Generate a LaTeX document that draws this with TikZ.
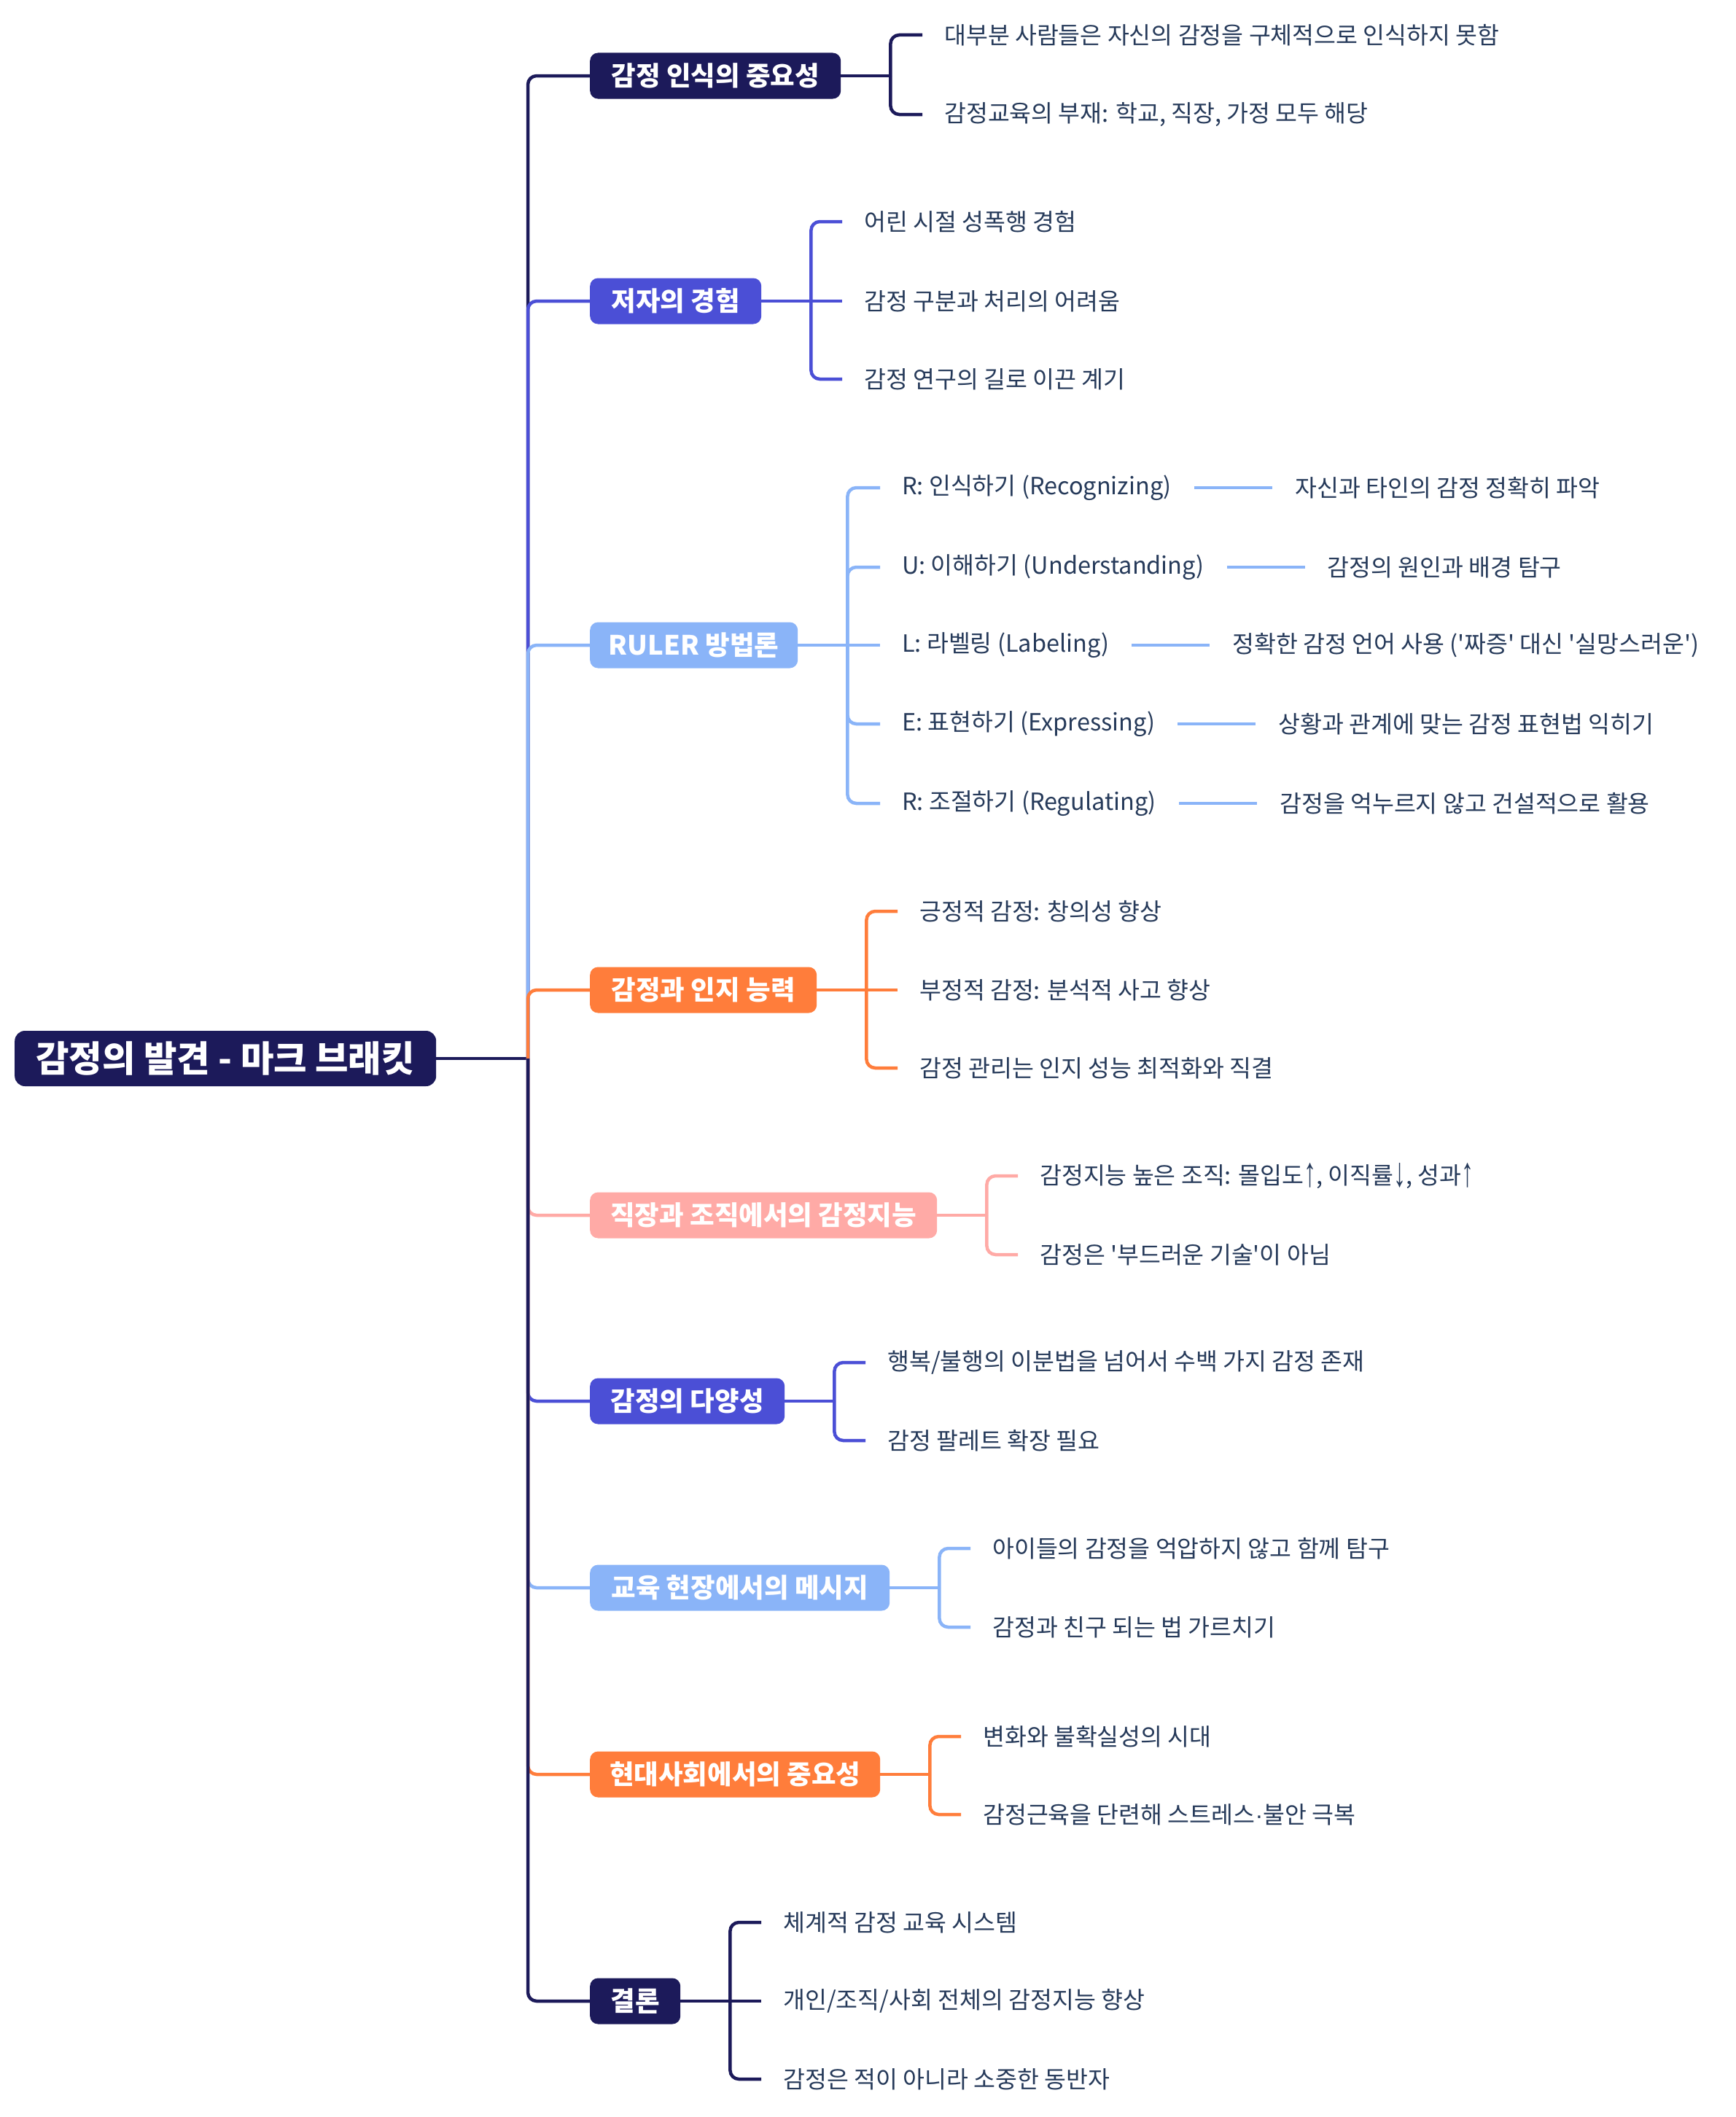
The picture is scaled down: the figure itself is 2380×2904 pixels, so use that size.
\documentclass[tikz,border=0pt]{standalone}
\usepackage{fontspec}
\setmainfont{Noto Sans CJK KR}
\newfontfamily\symf{Liberation Sans}
\newcommand\qmk{\textquotesingle}
\newcommand\uar{{\symf\raisebox{-0.08em}{\scalebox{1.05}[1.75]{↑}}}}
\newcommand\dar{{\symf\raisebox{-0.08em}{\scalebox{1.05}[1.75]{↓}}}}
\newcommand\mdt{{\symf ·}}
\definecolor{cnavy}{HTML}{1C1A5A}
\definecolor{cviolet}{HTML}{4B4FD6}
\definecolor{clblue}{HTML}{8AB4F8}
\definecolor{corange}{HTML}{FF7D3B}
\definecolor{cpink}{HTML}{FFAAA6}
\definecolor{ctxt}{HTML}{263A5A}
\begin{document}
\begin{tikzpicture}[x=1pt,y=-1pt,
  conn/.style={line width=4.5, rounded corners=12},
  rootbox/.style={rounded corners=14, minimum height=76, minimum width=578, inner xsep=10, anchor=west, text=white, font=\fontsize{49.5}{58}\selectfont\bfseries},
  lone/.style={rounded corners=11, minimum height=63, inner xsep=12, anchor=west, text=white, font=\fontsize{36.5}{42}\selectfont\bfseries},
  ch/.style={inner sep=0, anchor=west, text=ctxt, font=\fontsize{32.5}{38}\selectfont}]
\useasboundingbox (0,0) rectangle (2380,2904);
\fill[white] (0,0) rectangle (2380,2904);

\coordinate (T) at (724,1452);
\node[rootbox, fill=cnavy] (root) at (20,1452) {감정의 발견 - 마크 브래킷};

% level one
\node[lone, fill=cnavy,   minimum width=344] (a) at (809,104)  {감정 인식의 중요성};
\node[lone, fill=cviolet, minimum width=235] (b) at (809,413)  {저자의 경험};
\node[lone, fill=clblue,  minimum width=285] (c) at (809,885)  {RULER 방법론};
\node[lone, fill=corange, minimum width=311] (d) at (809,1358) {감정과 인지 능력};
\node[lone, fill=cpink,   minimum width=476] (e) at (809,1667) {직장과 조직에서의 감정지능};
\node[lone, fill=cviolet, minimum width=267] (f) at (809,1922) {감정의 다양성};
\node[lone, fill=clblue,  minimum width=411] (g) at (809,2178) {교육 현장에서의 메시지};
\node[lone, fill=corange, minimum width=398] (h) at (809,2434) {현대사회에서의 중요성};
\node[lone, fill=cnavy,   minimum width=124] (i) at (809,2745) {결론};

% trunk
\draw[conn, cnavy] (root.east) -- (T);
\draw[conn, cnavy]   (T) |- (a.west);
\draw[conn, cviolet] (T) |- (b.west);
\draw[conn, clblue]  (T) |- (c.west);
\draw[conn, corange] (T) |- (d.west);
\draw[conn, cpink]   (T) |- (e.west);
\draw[conn, cviolet] (T) |- (f.west);
\draw[conn, clblue]  (T) |- (g.west);
\draw[conn, corange] (T) |- (h.west);
\draw[conn, cnavy]   (T) |- (i.west);

% branch a
\node[ch] (a1) at (1295,48)  {대부분 사람들은 자신의 감정을 구체적으로 인식하지 못함};
\node[ch] (a2) at (1295,157) {감정교육의 부재: 학교, 직장, 가정 모두 해당};
\draw[conn, cnavy] (a.east) -- ++(68,0) coordinate (ab);
\draw[conn, cnavy] (ab) |- ([xshift=-30]a1.west);
\draw[conn, cnavy] (ab) |- ([xshift=-30]a2.west);

% branch b
\node[ch] (b1) at (1185,304) {어린 시절 성폭행 경험};
\node[ch] (b2) at (1185,413) {감정 구분과 처리의 어려움};
\node[ch] (b3) at (1185,520) {감정 연구의 길로 이끈 계기};
\draw[conn, cviolet] (b.east) -- ++(68,0) coordinate (bb);
\draw[conn, cviolet] (bb) |- ([xshift=-30]b1.west);
\draw[conn, cviolet] (bb) -- ([xshift=-30]b2.west);
\draw[conn, cviolet] (bb) |- ([xshift=-30]b3.west);

% branch c
\node[ch] (c1) at (1237,669)  {R: 인식하기 (Recognizing)};
\node[ch] (c2) at (1237,778)  {U: 이해하기 (Understanding)};
\node[ch] (c3) at (1237,885)  {L: 라벨링 (Labeling)};
\node[ch] (c4) at (1237,993)  {E: 표현하기 (Expressing)};
\node[ch] (c5) at (1237,1102) {R: 조절하기 (Regulating)};
\draw[conn, clblue] (c.east) -- ++(68,0) coordinate (cb);
\draw[conn, clblue] (cb) |- ([xshift=-30]c1.west);
\draw[conn, clblue] (cb) |- ([xshift=-30]c2.west);
\draw[conn, clblue] (cb) -- ([xshift=-30]c3.west);
\draw[conn, clblue] (cb) |- ([xshift=-30]c4.west);
\draw[conn, clblue] (cb) |- ([xshift=-30]c5.west);
\node[ch] (c1g) at ([xshift=169]c1.east) {자신과 타인의 감정 정확히 파악};
\node[ch] (c2g) at ([xshift=169]c2.east) {감정의 원인과 배경 탐구};
\node[ch] (c3g) at ([xshift=169]c3.east) {정확한 감정 언어 사용 (\qmk 짜증\qmk\ 대신 \qmk 실망스러운\qmk)};
\node[ch] (c4g) at ([xshift=169]c4.east) {상황과 관계에 맞는 감정 표현법 익히기};
\node[ch] (c5g) at ([xshift=169]c5.east) {감정을 억누르지 않고 건설적으로 활용};
\foreach \k in {1,...,5}{
  \draw[conn, clblue] ([xshift=31]c\k.east) -- ([xshift=-31]c\k g.west);
}

% branch d
\node[ch] (d1) at (1261,1250) {긍정적 감정: 창의성 향상};
\node[ch] (d2) at (1261,1358) {부정적 감정: 분석적 사고 향상};
\node[ch] (d3) at (1261,1465) {감정 관리는 인지 성능 최적화와 직결};
\draw[conn, corange] (d.east) -- ++(68,0) coordinate (db);
\draw[conn, corange] (db) |- ([xshift=-30]d1.west);
\draw[conn, corange] (db) -- ([xshift=-30]d2.west);
\draw[conn, corange] (db) |- ([xshift=-30]d3.west);

% branch e
\node[ch] (e1) at (1426,1613) {감정지능 높은 조직: 몰입도\uar, 이직률\dar, 성과\uar};
\node[ch] (e2) at (1426,1721) {감정은 \qmk 부드러운 기술\qmk 이 아님};
\draw[conn, cpink] (e.east) -- ++(68,0) coordinate (eb);
\draw[conn, cpink] (eb) |- ([xshift=-30]e1.west);
\draw[conn, cpink] (eb) |- ([xshift=-30]e2.west);

% branch f
\node[ch] (f1) at (1217,1869) {행복/불행의 이분법을 넘어서 수백 가지 감정 존재};
\node[ch] (f2) at (1217,1976) {감정 팔레트 확장 필요};
\draw[conn, cviolet] (f.east) -- ++(68,0) coordinate (fb);
\draw[conn, cviolet] (fb) |- ([xshift=-30]f1.west);
\draw[conn, cviolet] (fb) |- ([xshift=-30]f2.west);

% branch g
\node[ch] (g1) at (1361,2124) {아이들의 감정을 억압하지 않고 함께 탐구};
\node[ch] (g2) at (1361,2232) {감정과 친구 되는 법 가르치기};
\draw[conn, clblue] (g.east) -- ++(68,0) coordinate (gb);
\draw[conn, clblue] (gb) |- ([xshift=-30]g1.west);
\draw[conn, clblue] (gb) |- ([xshift=-30]g2.west);

% branch h
\node[ch] (h1) at (1348,2382) {변화와 불확실성의 시대};
\node[ch] (h2) at (1348,2489) {감정근육을 단련해 스트레스\mdt 불안 극복};
\draw[conn, corange] (h.east) -- ++(68,0) coordinate (hb);
\draw[conn, corange] (hb) |- ([xshift=-30]h1.west);
\draw[conn, corange] (hb) |- ([xshift=-30]h2.west);

% branch i
\node[ch] (i1) at (1074,2637) {체계적 감정 교육 시스템};
\node[ch] (i2) at (1074,2745) {개인/조직/사회 전체의 감정지능 향상};
\node[ch] (i3) at (1074,2852) {감정은 적이 아니라 소중한 동반자};
\draw[conn, cnavy] (i.east) -- ++(68,0) coordinate (ib);
\draw[conn, cnavy] (ib) |- ([xshift=-30]i1.west);
\draw[conn, cnavy] (ib) -- ([xshift=-30]i2.west);
\draw[conn, cnavy] (ib) |- ([xshift=-30]i3.west);
\end{tikzpicture}
\end{document}
